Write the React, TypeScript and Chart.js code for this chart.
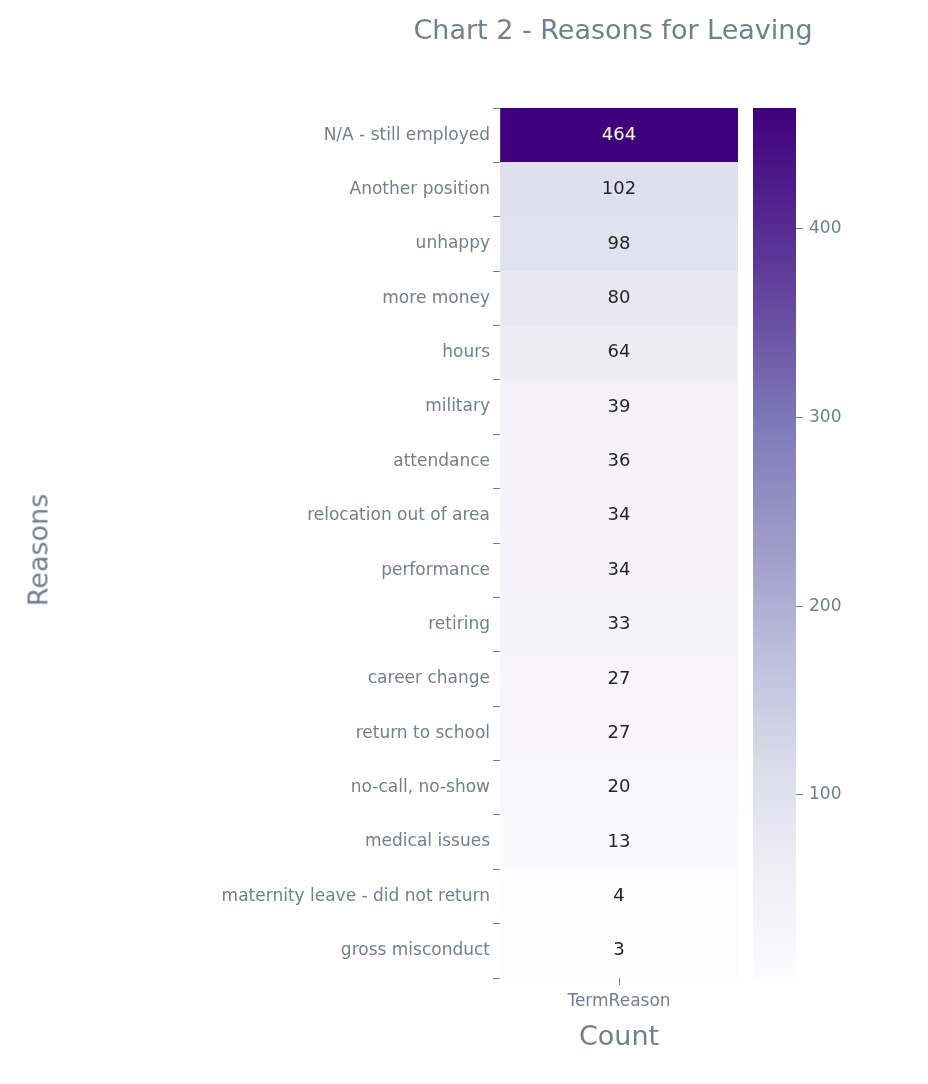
import React, { useEffect, useRef } from 'react';
import { Chart, registerables } from 'chart.js';

Chart.register(...registerables);

const reasons = [
  'N/A - still employed', 'Another position', 'unhappy', 'more money', 'hours', 'military',
  'attendance', 'relocation out of area', 'performance', 'retiring', 'career change',
  'return to school', 'no-call, no-show', 'medical issues', 'maternity leave - did not return',
  'gross misconduct',
];
const counts = [464, 102, 98, 80, 64, 39, 36, 34, 34, 33, 27, 27, 20, 13, 4, 3];
const colorbarTicks = [100, 200, 300, 400];

const purples = ['#fcfbfd', '#efedf5', '#dadaeb', '#bcbddc', '#9e9ac8', '#807dba', '#6a51a3', '#54278f', '#3f007d'];
const vmin = Math.min(...counts);
const vmax = Math.max(...counts);
const slate = '#708090';
const FONT = 'DejaVu Sans';

function hex(h: string) {
  return [1, 3, 5].map((i) => parseInt(h.slice(i, i + 2), 16));
}
function colorAt(t: number) {
  t = Math.max(0, Math.min(1, t)) * (purples.length - 1);
  const i = Math.min(Math.floor(t), purples.length - 2);
  const f = t - i;
  const a = hex(purples[i]);
  const b = hex(purples[i + 1]);
  const c = a.map((v, k) => Math.round(v + (b[k] - v) * f));
  return `rgb(${c[0]},${c[1]},${c[2]})`;
}
const norm = (v: number) => (v - vmin) / (vmax - vmin);

const App: React.FC = () => {
  const mainRef = useRef<HTMLCanvasElement>(null);
  const barRef = useRef<HTMLCanvasElement>(null);

  useEffect(() => {
    const labelPlugin = {
      id: 'cellLabels',
      afterDatasetsDraw(chart: any) {
        const ctx = chart.ctx;
        const meta = chart.getDatasetMeta(0);
        ctx.save();
        ctx.font = `18px "${FONT}"`;
        ctx.textAlign = 'center';
        ctx.textBaseline = 'middle';
        const cx = (chart.chartArea.left + chart.chartArea.right) / 2;
        meta.data.forEach((el: any, i: number) => {
          ctx.fillStyle = norm(counts[i]) > 0.5 ? '#ffffff' : '#262626';
          ctx.fillText(String(counts[i]), cx, el.y);
        });
        ctx.restore();
      },
    };

    const main = new Chart(mainRef.current!, {
      type: 'bar',
      data: {
        labels: reasons,
        datasets: [{
          data: counts.map(() => 1),
          backgroundColor: counts.map((v) => colorAt(norm(v))),
          barPercentage: 1,
          categoryPercentage: 1,
          borderWidth: 0,
        }],
      },
      options: {
        indexAxis: 'y',
        animation: false,
        responsive: false,
        layout: { padding: { top: 108, right: 22, left: 0, bottom: 0 } },
        plugins: { legend: { display: false }, tooltip: { enabled: false } },
        scales: {
          x: {
            type: 'linear', min: 0, max: 1,
            border: { display: false },
            grid: { drawOnChartArea: false, tickLength: 7, tickColor: (c: any) => (c.tick && c.tick.value === 0.5 ? slate : 'rgba(0,0,0,0)') },
            ticks: { stepSize: 0.5, color: slate, font: { family: FONT, size: 17 }, padding: 6, callback: (v: any) => (v === 0.5 ? 'TermReason' : '') },
            afterFit: (s: any) => { s.height = 106; },
          },
          y: {
            border: { display: false },
            grid: { drawOnChartArea: false, tickLength: 7, tickColor: slate },
            ticks: { color: slate, font: { family: FONT, size: 17 }, padding: 3 },
            afterFit: (s: any) => { s.width = 500; },
          },
        },
      },
      plugins: [labelPlugin],
    });

    const bar = new Chart(barRef.current!, {
      type: 'bar',
      data: {
        labels: [''],
        datasets: [{
          data: [[vmin, vmax]] as any,
          barPercentage: 1,
          categoryPercentage: 1,
          borderWidth: 0,
          backgroundColor: (c: any) => {
            const area = c.chart.chartArea;
            if (!area) return purples[4];
            const g = c.chart.ctx.createLinearGradient(0, area.bottom, 0, area.top);
            purples.forEach((p, i) => g.addColorStop(i / (purples.length - 1), p));
            return g;
          },
        }],
      },
      options: {
        animation: false,
        responsive: false,
        layout: { padding: { top: 108, bottom: 106, left: 13, right: 0 } },
        plugins: { legend: { display: false }, tooltip: { enabled: false } },
        scales: {
          x: { display: false },
          y: {
            position: 'right',
            min: vmin, max: vmax,
            border: { display: false },
            grid: { drawOnChartArea: false, tickLength: 7, tickColor: slate },
            ticks: { color: slate, font: { family: FONT, size: 17 }, padding: 6 },
            afterBuildTicks: (s: any) => { s.ticks = colorbarTicks.map((v) => ({ value: v })); },
            afterFit: (s: any) => { s.width = 132; },
          },
        },
      },
    });

    return () => { main.destroy(); bar.destroy(); };
  }, []);

  return (
    <div style={{ position: 'fixed', left: 0, top: 0, width: 928, height: 1084, background: '#fff', fontFamily: FONT }}>
      <canvas ref={mainRef} width={760} height={1084} style={{ position: 'absolute', left: 0, top: 0 }} />
      <canvas ref={barRef} width={188} height={1084} style={{ position: 'absolute', left: 740, top: 0 }} />
      <div style={{ position: 'absolute', left: 300, width: 626, top: 14, textAlign: 'center', fontSize: 27, color: slate }}>
        Chart 2 - Reasons for Leaving
      </div>
      <div style={{ position: 'absolute', left: 500, width: 238, top: 1020, textAlign: 'center', fontSize: 27, color: slate }}>
        Count
      </div>
      <div style={{ position: 'absolute', left: 38, top: 550, transform: 'translate(-50%, -50%) rotate(-90deg)', fontSize: 27, color: slate, whiteSpace: 'nowrap' }}>
        Reasons
      </div>
    </div>
  );
};

export default App;
